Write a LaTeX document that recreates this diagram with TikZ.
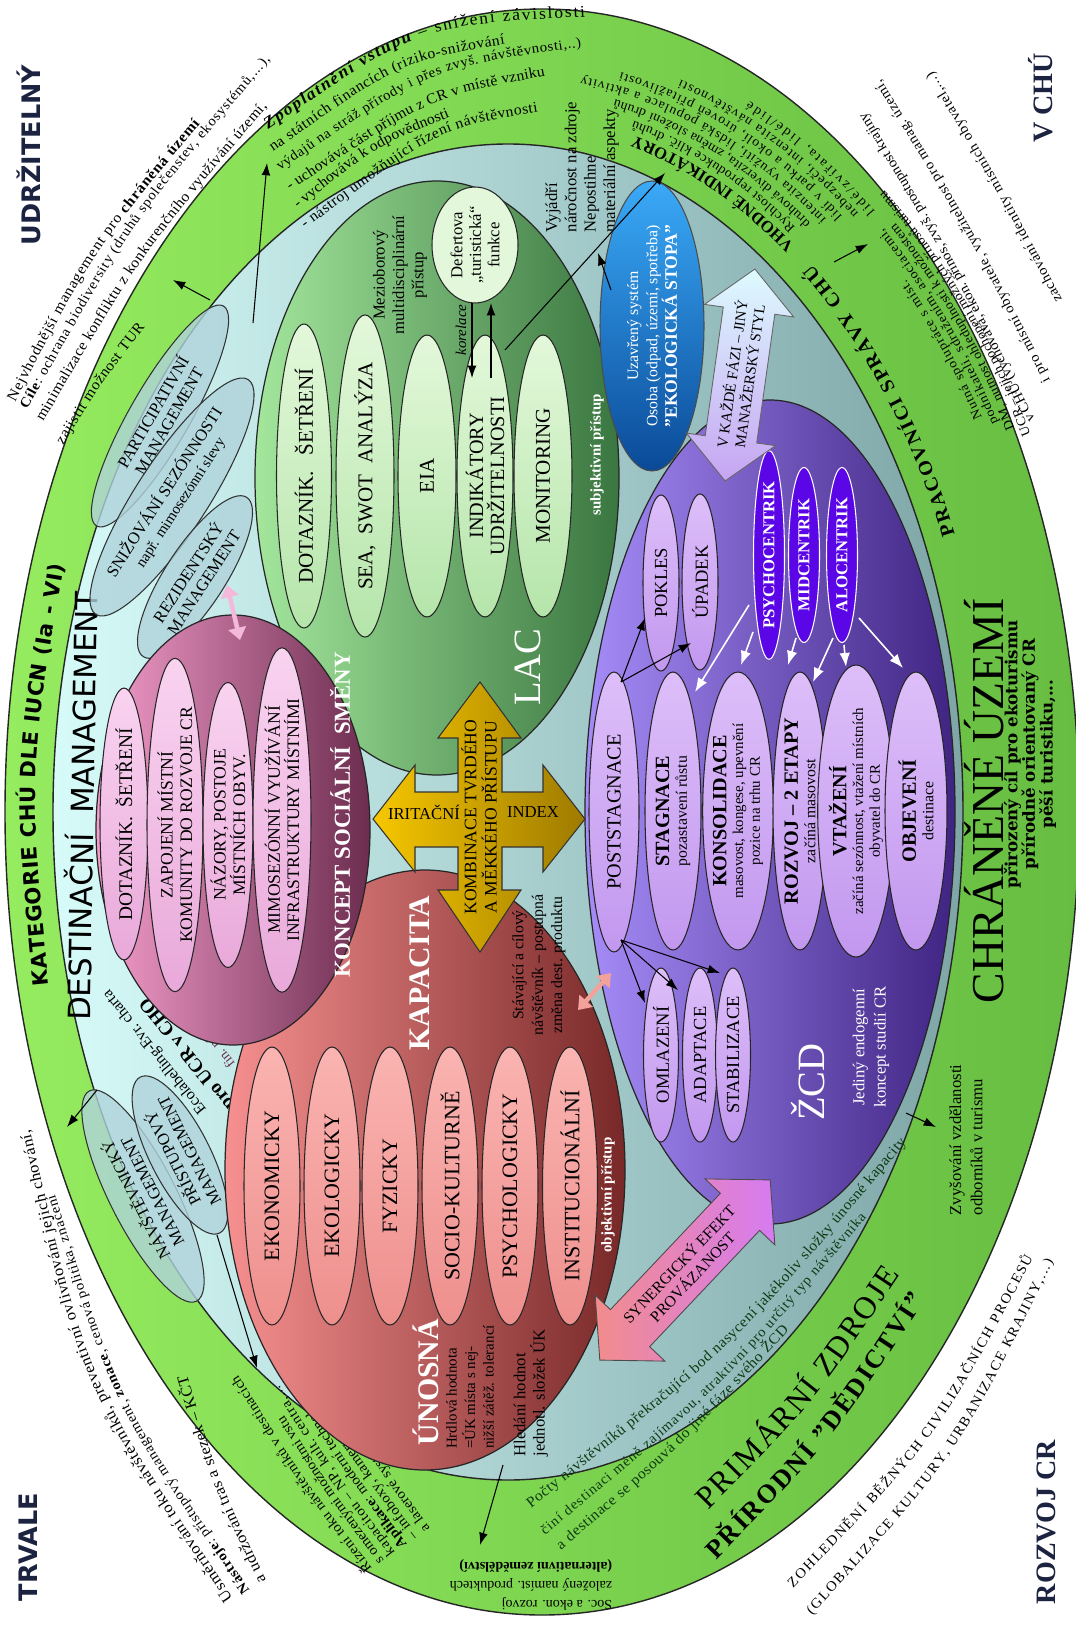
\documentclass[tikz,border=0pt]{standalone}
\usepackage{fontspec}
\setmainfont{Liberation Serif}
\newfontfamily\sansf{DejaVu Sans}
\newfontfamily\widef{DejaVu Serif}
\newfontfamily\rf[FakeStretch=1.05]{Liberation Serif}
\usetikzlibrary{shapes.geometric,arrows.meta,calc,decorations.text}
\newcommand\fs[2]{\fontsize{#1}{#2}\selectfont}
% text on a bent line: start, end, bulge factor, text
\newcommand\arctext[4]{%
  \path[decorate,decoration={text along path,text align=fit to path,text={#4}}]
    #1 .. controls ($#1!0.5!#2!#3!90:#2$) .. #2;}
% text on a curve with explicit control point
\newcommand\arctextc[4]{%
  \path[decorate,decoration={text along path,text align=fit to path,text={#4}}]
    #1 .. controls #2 .. #3;}
% text on an elliptic arc: centre, rx, ry, start angle, end angle, text
\newcommand\ringtext[6]{%
  \path[decorate,decoration={text along path,text align=fit to path,text={#6}}]
    #1 ++(#4:#2 and #3) arc[start angle=#4,end angle=#5,x radius=#2,y radius=#3];}
\definecolor{gOutL}{HTML}{95EC5F}
\definecolor{gOutR}{HTML}{66BD41}
\definecolor{cyL}{HTML}{D6FBF9}
\definecolor{cyR}{HTML}{7EA6A7}
\definecolor{cyE}{HTML}{AFD3DA}
\definecolor{pkL}{HTML}{F59DCC}
\definecolor{pkR}{HTML}{6C2D4F}
\definecolor{pkInL}{HTML}{F9D3F0}
\definecolor{pkInR}{HTML}{E9A9DA}
\definecolor{lcL}{HTML}{A3E69C}
\definecolor{lcR}{HTML}{3A7640}
\definecolor{lcInL}{HTML}{E3F8DA}
\definecolor{lcInR}{HTML}{B5E5AA}
\definecolor{rdL}{HTML}{F79090}
\definecolor{rdR}{HTML}{782828}
\definecolor{rdInL}{HTML}{FAB4B1}
\definecolor{rdInR}{HTML}{EE8F8D}
\definecolor{puL}{HTML}{A68CF8}
\definecolor{puR}{HTML}{3F2482}
\definecolor{puInL}{HTML}{DDBEF9}
\definecolor{puInR}{HTML}{C298EF}
\definecolor{psy}{HTML}{5A06E6}
\definecolor{blL}{HTML}{3AAAF8}
\definecolor{blR}{HTML}{0A4A98}
\definecolor{gdL}{HTML}{F6C700}
\definecolor{gdR}{HTML}{9E7A00}
\definecolor{navy}{HTML}{1C2340}
\definecolor{dkg}{HTML}{0E3A12}
\definecolor{ltA}{HTML}{DDFBFF}
\definecolor{ltB}{HTML}{C6A4F2}
\definecolor{synA}{HTML}{F28C8C}
\definecolor{synB}{HTML}{D67BF2}
\definecolor{salm}{HTML}{F2A29A}
\definecolor{pinkar}{HTML}{F4B8DA}
\begin{document}
\begin{tikzpicture}[x=0.02cm,y=-0.02cm,
 inel/.style={ellipse,draw=black!85,line width=0.6pt,rotate=90,inner sep=0pt,align=center},
 lbl/.style={rotate=90,inner sep=0pt,align=center},
 arr/.style={-{Latex[length=7pt,width=5pt]},line width=0.6pt},
 warr/.style={draw=white,-{Latex[length=8pt,width=6pt]},line width=0.9pt},
 cyell/.style={ellipse,draw=black!80,line width=0.6pt,inner sep=0pt,align=center,fill=cyE,fill opacity=0.8,text opacity=1},
 corner/.style={rotate=90,inner sep=0pt,text=navy}]
\useasboundingbox (0,0) rectangle (1075,1625);
\fill[white] (0,0) rectangle (1075,1625);

% ---- rings
\path[draw=black!85,line width=0.8pt,left color=gOutL,right color=gOutR] (542,812) ellipse [x radius=537,y radius=803];
\path[draw=black!85,line width=0.8pt,left color=cyL,right color=cyR] (508,812) ellipse [x radius=455,y radius=668];

% ---- corner words
\node[corner,font=\sansf\bfseries\fs{14.5}{16}] (udr) at (29,155) {UDRŽITELNÝ};
\node[corner,font=\bfseries\fs{16}{18}] (vchu) at (1041,98) {V CHÚ};
\node[corner,font=\sansf\bfseries\fs{14.5}{16}] (trv) at (28,1547) {TRVALE};
\node[corner,font=\bfseries\fs{16}{18}] (roz) at (1046,1522) {ROZVOJ CR};

% ---- left band
\arctext{(49,985)}{(64,565)}{0.133}{|\sansf\bfseries\fs{12}{13}|KATEGORIE CHÚ DLE IUCN (Ia - VI)}
\node[rotate=89,inner sep=0pt,font=\sansf\fs{17.5}{19}] (dest) at (80,806) {DESTINAČNÍ \ MANAGEMENT};

% ---- top-left outside
\arctext{(15,402)}{(200,124)}{0.11}{|\rf\fs{8.5}{10}|Nejvhodnější management pro |\rf\fs{8.5}{10}\bfseries|chráněná území}
\arctext{(27,410)}{(270,60)}{0.10}{|\rf\fs{8}{9}\bfseries|Cíle|\rf\fs{8}{9}|: ochrana biodiversity (druhů společenstev, ekosystémů,...),}
\arctext{(43,422)}{(267,107)}{0.09}{|\rf\fs{8.5}{9}|minimalizace konfliktu z konkurenčního využívání území,}
\arctext{(63,445)}{(145,327)}{0.05}{|\rf\fs{8.5}{9}|zajistit možnost TUR}

% ---- top band
\arctextc{(268,130)}{(420,25)}{(585,17)}{|\rf\fs{9.5}{11}\bfseries\itshape|Zpoplatnění vstupu|\rf\fs{9.5}{11}| – snížení závislosti}
\arctextc{(273,152)}{(400,62)}{(505,44)}{|\rf\fs{8.5}{9}|na státních financích (riziko-snižování}
\arctextc{(280,171)}{(430,68)}{(581,47)}{|\rf\fs{8}{9}|výdajů na stráž přírody i přes zvyš. návštěvnosti,..)}
\arctextc{(290,191)}{(430,97)}{(545,76)}{|\rf\fs{8.5}{9}|- uchovává část příjmu z CR v místě vzniku}
\arctextc{(298,209)}{(375,147)}{(450,117)}{|\rf\fs{8.5}{9}|- vychovává k odpovědnosti}
\arctextc{(305,229)}{(440,128)}{(538,112)}{|\rf\fs{8.5}{9}|- nástroj umožňující řízení návštěvnosti}

% ---- bottom-left outside and band
\arctext{(233,1598)}{(30,1130)}{0.19}{|\rf\fs{9}{10}|Usměrňování toku návštěvníků, preventivní ovlivňování jejich chování,}
\arctext{(250,1590)}{(55,1195)}{0.16}{|\rf\fs{8}{9}\bfseries|Nástroje|\rf\fs{8}{9}|: přístupový management, |\rf\fs{8}{9}\bfseries|zonace|\rf\fs{8}{9}|, cenová politika, značení}
\arctext{(266,1580)}{(187,1375)}{0.08}{|\rf\fs{9}{10}|a udržování tras a stezek – KČT}
\arctext{(372,1568)}{(238,1375)}{0.05}{|\rf\fs{8}{9}|Řízení toku návštěvníků v destinacích}
\arctext{(384,1560)}{(283,1414)}{0.04}{|\rf\fs{8}{9}|s omezenými možnostmi vstupu}
\arctext{(395,1552)}{(279,1385)}{0.04}{|\rf\fs{8}{9}|kapacitou – NP, kult. centra,...}
\arctext{(407,1544)}{(299,1388)}{0.04}{|\rf\fs{8}{9}\bfseries|Aplikace|\rf\fs{8}{9}|: moderní technologie}
\arctext{(418,1536)}{(291,1354)}{0.04}{|\rf\fs{8}{9}|– infoboxy, kamery, výp. tech. v IC}
\arctext{(430,1528)}{(364,1434)}{0.03}{|\rf\fs{8}{9}|a laserové systémy}

% ---- bottom-right
\arctext{(531,1508)}{(906,1143)}{-0.10}{|\rf\fs{8.5}{9}\color{dkg}|Počty návštěvníků překračující bod nasycení jakékoliv složky únosné kapacity}
\arctext{(545,1535)}{(866,1218)}{-0.086}{|\rf\fs{8}{9}\color{dkg}|činí destinaci méně zajímavou, atraktivní pro určitý typ návštěvníka}
\arctext{(561,1550)}{(789,1330)}{-0.06}{|\rf\fs{8.5}{9}\color{dkg}|a destinace se posouvá do jiné fáze svého ŽCD}
\arctext{(708,1510)}{(900,1275)}{-0.095}{|\fs{18}{20}|PRIMÁRNÍ ZDROJE}
\arctext{(716,1560)}{(925,1300)}{-0.095}{|\fs{15}{17}\bfseries|PŘÍRODNÍ "DĚDICTVÍ"}
\arctext{(793,1588)}{(1033,1258)}{-0.14}{|\rf\fs{8}{9}|ZOHLEDNĚNÍ BĚŽNÝCH CIVILIZAČNÍCH PROCESŮ}
\arctext{(812,1615)}{(1053,1262)}{-0.14}{|\rf\fs{8}{9}|(GLOBALIZACE KULTURY, URBANIZACE KRAJINY,...)}

% ---- top-right: headings and detail lines (around inner ring centre)
\ringtext{(508,812)}{487}{700}{336.6}{308.6}{|\rf\fs{11}{12}\bfseries|PRACOVNÍCI SPRÁVY CHÚ}
\ringtext{(508,812)}{487}{700}{306}{285}{|\fs{9.5}{10}\bfseries|VHODNÉ INDIKÁTORY}
\ringtext{(508,812)}{501}{714}{305}{284.5}{|\rf\fs{7.5}{9}|Rychlost reprodukce klíč. druhů}
\ringtext{(508,812)}{515}{728}{306}{282}{|\rf\fs{7.5}{9}|druhová diverzita, změna složení druhů}
\ringtext{(508,812)}{529}{742}{307}{278}{|\rf\fs{7.5}{9}|intenzita využití, lidská populace a aktivity}
\ringtext{(508,812)}{543}{756}{308}{282}{|\rf\fs{7.5}{9}|lidí v parku a okolí, úroveň přitažlivosti}
\ringtext{(508,812)}{557}{770}{309}{288}{|\rf\fs{7.5}{9}|nebezpečí, intenzita návštěvnosti}
\ringtext{(508,812)}{571}{784}{310}{295}{|\rf\fs{7.5}{9}|lidé/zvířata, lidé/lidé}
\ringtext{(508,812)}{553}{766}{329}{316}{|\rf\fs{7.5}{9}|Nutná spolupráce s míst.}
\ringtext{(508,812)}{566}{779}{330}{311.5}{|\rf\fs{7.5}{9}|podnikateli, sdružením, asociacemi,}
\ringtext{(508,812)}{579}{792}{331}{312}{|\rf\fs{7.5}{9}|DM, nutnost ohleduplnosti k možnostem}
\ringtext{(508,812)}{592}{805}{332}{309.5}{|\rf\fs{7.5}{9}|UCR – jejich pochopení možných přínosů turismu}
\arctext{(1035,420)}{(866,113)}{-0.04}{|\rf\fs{8}{9}|v CHÚ (vychovává, ekon. přínos, zvyš. prostupnost krajiny}
\arctext{(1050,380)}{(881,80)}{-0.04}{|\rf\fs{8}{9}|i pro místní obyvatele, využitelnost pro manag. území,}
\arctext{(1062,300)}{(933,72)}{-0.03}{|\rf\fs{8}{9}|zachování identity místních obyvatel,...)}

\node[lbl,font=\fs{26}{28}] (chu) at (984,801) {CHRÁNĚNÉ ÚZEMÍ};
\node[lbl,font=\widef\bfseries\fs{9.5}{10}] (prir) at (1030,754) {přirozený cíl pro ekoturismu\\přírodně orientovaný CR\\pěší turistiku,...};
\node[lbl,align=left,font=\fs{9.5}{12}] (zvys) at (966,1140) {Zvyšování vzdělanosti\\odborníků v turismu};
\node[rotate=180,inner sep=0pt,align=left,font=\fs{8}{11}] (soc) at (531,1585) {Soc. a ekon. rozvoj\\založený namíst. produktech\\{\bfseries (alternativní zemědělství)}};

% ---- small cyan ellipses
\node[cyell,rotate=60,minimum width=5.08cm,minimum height=1.2cm,font=\fs{9.5}{10.5}] (part) at (160,416) {PARTICIPATIVNÍ\\MANAGEMENT};
\node[cyell,rotate=57,minimum width=5.6cm,minimum height=1.44cm,font=\fs{9.5}{10.5}] (sniz) at (172,497) {SNIŽOVÁNÍ SEZÓNNOSTI\\{\fs{8.5}{10}např. mimosezónní slevy}};
\node[cyell,rotate=57,minimum width=3.8cm,minimum height=1.2cm,font=\fs{9.5}{10.5}] (rez) at (195,577) {REZIDENTSKÝ\\MANAGEMENT};
\node[cyell,rotate=117,minimum width=4.72cm,minimum height=1.32cm,font=\fs{9.5}{10.5}] (navs) at (143,1196) {NÁVŠTĚVNICKÝ\\MANAGEMENT};
\node[cyell,rotate=117,minimum width=3.5cm,minimum height=1.2cm,font=\fs{9.5}{10.5}] (prist) at (180,1155) {PŘÍSTUPOVÝ\\MANAGEMENT};

\node[rotate=129,inner sep=0pt,font=\fs{9}{10}] (eco) at (155,1052) {Ecolabelling-Evr. charta};
\node[rotate=129,inner sep=0pt,font=\bfseries\fs{11}{12}] (ucr) at (188,1053) {pro UCR v CHO};
\node[rotate=129,inner sep=0pt,font=\fs{8}{9},text=pkR] (fin) at (207,1036) {fin. náročnost};

% ---- big ellipses
\path[draw=black!85,line width=0.7pt,left color=rdL,right color=rdR] (425,1170) ellipse [x radius=200,y radius=300];
\path[draw=black!85,line width=0.7pt,left color=puL,right color=puR] (770,812) ellipse [x radius=185,y radius=412];
\path[draw=black!85,line width=0.7pt,left color=lcL,right color=lcR] (437,478) ellipse [x radius=182,y radius=297];
\path[draw=black!85,line width=0.7pt,left color=pkL,right color=pkR] (233,830) ellipse [x radius=137,y radius=215];

% ---- pink contents
\node[inel,minimum width=5.04cm,minimum height=0.96cm,top color=pkInL,bottom color=pkInR,font=\fs{11}{12}] (p1) at (124,824) {DOTAZNÍK.\ \ ŠETŘENÍ};
\node[inel,minimum width=5.7cm,minimum height=1.12cm,top color=pkInL,bottom color=pkInR,font=\fs{10}{11}] (p2) at (175,825) {ZAPOJENÍ MÍSTNÍ\\KOMUNITY DO ROZVOJE CR};
\node[inel,minimum width=5.7cm,minimum height=1.0cm,top color=pkInL,bottom color=pkInR,font=\fs{10}{11}] (p3) at (228,825) {NÁZORY, POSTOJE\\MÍSTNÍCH OBYV.};
\node[inel,minimum width=5.9cm,minimum height=1.16cm,top color=pkInL,bottom color=pkInR,font=\fs{10}{11}] (p4) at (282,820) {MIMOSEZÓNNÍ VYUŽÍVÁNÍ\\INFRASTRUKTURY MÍSTNÍMI};
\node[lbl,text=white,font=\bfseries\fs{13}{14}] (kss) at (340,815) {KONCEPT SOCIÁLNÍ \ SMĚNY};

% ---- LAC contents
\node[inel,minimum width=5.64cm,minimum height=1.1cm,top color=lcInL,bottom color=lcInR,font=\fs{12}{13}] (l1) at (304,476) {DOTAZNÍK.\ \ \ ŠETŘENÍ};
\node[inel,minimum width=5.64cm,minimum height=1.16cm,top color=lcInL,bottom color=lcInR,font=\fs{12}{13}] (l2) at (365,476) {SEA, \ SWOT \ ANALÝZA};
\node[inel,minimum width=5.64cm,minimum height=1.16cm,top color=lcInL,bottom color=lcInR,font=\fs{12}{13}] (l3) at (427,476) {EIA};
\node[inel,minimum width=5.64cm,minimum height=1.12cm,top color=lcInL,bottom color=lcInR,font=\fs{11.5}{12}] (l4) at (485,476) {INDIKÁTORY\\UDRŽITELNOSTI};
\node[inel,minimum width=5.64cm,minimum height=1.16cm,top color=lcInL,bottom color=lcInR,font=\fs{12}{13}] (l5) at (543,476) {MONITORING};
\node[lbl,font=\fs{9.5}{11}] (mezi) at (400,275) {Mezioborový\\multidisciplinární\\přístup};
\node[ellipse,draw=black!85,line width=0.6pt,rotate=90,minimum width=2.32cm,minimum height=1.72cm,inner sep=0pt,align=center,fill=lcInL,font=\fs{9.5}{10.5}] (def) at (475,245) {Defertova\\„turistická“\\funkce};
\node[lbl,font=\itshape\fs{8.5}{9}] (kor) at (461,330) {korelace};
\node[lbl,text=white,font=\fs{22}{24}] (lac) at (528,667) {LAC};
\node[lbl,text=white,font=\bfseries\fs{8.5}{9}] (subj) at (597,455) {subjektivní přístup};
\node[lbl,align=left,font=\fs{9.5}{11}] (vyj) at (582,167) {Vyjádří\\náročnost na zdroje\\Nepostihne\\materiální aspekty};

% ---- blue ellipse
\node[ellipse,draw=black!70,line width=0.6pt,rotate=90,minimum width=5.8cm,minimum height=2.08cm,inner sep=0pt,align=center,top color=blL,bottom color=blR,text=white,font=\fs{9}{11}] (blue) at (652,326) {Uzavřený systém\\Osoba (odpad, území, spotřeba)\\{\bfseries\fs{10}{11}"EKOLOGICKÁ STOPA"}};

% ---- red contents
\node[inel,minimum width=5.56cm,minimum height=1.12cm,top color=rdInL,bottom color=rdInR,font=\fs{12.5}{13}] (r1) at (272,1186) {EKONOMICKY};
\node[inel,minimum width=5.56cm,minimum height=1.12cm,top color=rdInL,bottom color=rdInR,font=\fs{12.5}{13}] (r2) at (332,1186) {EKOLOGICKY};
\node[inel,minimum width=5.56cm,minimum height=1.12cm,top color=rdInL,bottom color=rdInR,font=\fs{12.5}{13}] (r3) at (390,1186) {FYZICKY};
\node[inel,minimum width=5.56cm,minimum height=1.12cm,top color=rdInL,bottom color=rdInR,font=\fs{12.5}{13}] (r4) at (450,1186) {SOCIO-KULTURNĚ};
\node[inel,minimum width=5.56cm,minimum height=1.12cm,top color=rdInL,bottom color=rdInR,font=\fs{12.5}{13}] (r5) at (510,1186) {PSYCHOLOGICKY};
\node[inel,minimum width=5.56cm,minimum height=1.1cm,top color=rdInL,bottom color=rdInR,font=\fs{12.5}{13}] (r6) at (570,1186) {INSTITUCIONÁLNÍ};
\node[lbl,text=white,font=\bfseries\fs{17}{18}] (kap) at (420,973) {KAPACITA};
\node[lbl,text=white,font=\bfseries\fs{17}{18}] (unos) at (426,1382) {ÚNOSNÁ};
\node[lbl,align=left,font=\fs{8.5}{10.5}] (hrdl) at (470,1387) {Hrdlová hodnota\\=ÚK místa s nej-\\nižší zátěž. tolerancí};
\node[lbl,align=left,font=\fs{9.5}{11}] (hled) at (531,1393) {Hledání hodnot\\jednotl. složek ÚK};
\node[lbl,font=\fs{9}{11}] (stav) at (539,965) {Stávající a cílový\\návštěvník – postupná\\změna dest. produktu};
\node[lbl,text=white,font=\bfseries\fs{8.5}{9}] (obj) at (608,1195) {objektivní přístup};

% ---- purple contents
\node[inel,minimum width=5.6cm,minimum height=1.0cm,top color=puInL,bottom color=puInR,font=\fs{11.5}{12}] (u1) at (614,812) {POSTSTAGNACE};
\node[inel,minimum width=5.56cm,minimum height=1.12cm,top color=puInL,bottom color=puInR,font=\fs{9}{10}] (u2) at (673,811) {{\bfseries\fs{11.5}{13}STAGNACE}\\pozastavení růstu};
\node[inel,minimum width=5.56cm,minimum height=1.32cm,top color=puInL,bottom color=puInR,font=\fs{8.5}{9.5}] (u3) at (738,811) {{\bfseries\fs{11.5}{12.5}KONSOLIDACE}\\masovost, kongese, upevnění\\pozice na trhu CR};
\node[inel,minimum width=5.56cm,minimum height=1.08cm,top color=puInL,bottom color=puInR,font=\fs{9}{10}] (u4) at (800,811) {{\bfseries\fs{11.5}{13}ROZVOJ – 2 ETAPY}\\začíná masovost};
\node[inel,minimum width=5.56cm,minimum height=1.12cm,top color=puInL,bottom color=puInR,font=\fs{8.5}{9.5}] (u5) at (856,811) {{\bfseries\fs{11.5}{12.5}VTAŽENÍ}\\začíná sezónnost, vtažení místních\\obyvatel do CR};
\node[inel,minimum width=5.56cm,minimum height=1.24cm,top color=puInL,bottom color=puInR,font=\fs{9}{10}] (u6) at (916,811) {{\bfseries\fs{11.5}{13}OBJEVENÍ}\\destinace};
\node[inel,minimum width=3.52cm,minimum height=0.72cm,top color=puInL,bottom color=puInR,font=\fs{10.5}{11}] (pok) at (661,583) {POKLES};
\node[inel,minimum width=3.52cm,minimum height=0.72cm,top color=puInL,bottom color=puInR,font=\fs{10.5}{11}] (upa) at (700,582) {ÚPADEK};
\node[inel,minimum width=3.48cm,minimum height=0.7cm,top color=puInL,bottom color=puInR,font=\fs{10.5}{11}] (oml) at (661,1055) {OMLAZENÍ};
\node[inel,minimum width=3.48cm,minimum height=0.7cm,top color=puInL,bottom color=puInR,font=\fs{10.5}{11}] (ada) at (700,1055) {ADAPTACE};
\node[inel,minimum width=3.48cm,minimum height=0.7cm,top color=puInL,bottom color=puInR,font=\fs{10.5}{11}] (stab) at (733,1055) {STABILIZACE};
\node[inel,draw=white,minimum width=3.5cm,minimum height=0.62cm,fill=psy,text=white,font=\bfseries\fs{9.5}{10}] (psych) at (769,555) {PSYCHOCENTRIK};
\node[inel,draw=white,minimum width=3.5cm,minimum height=0.62cm,fill=psy,text=white,font=\bfseries\fs{9.5}{10}] (mid) at (804,555) {MIDCENTRIK};
\node[inel,draw=white,minimum width=3.5cm,minimum height=0.62cm,fill=psy,text=white,font=\bfseries\fs{9.5}{10}] (alo) at (842,555) {ALOCENTRIK};
\node[lbl,text=white,font=\fs{22}{24}] (zcd) at (808,1082) {ŽCD};
\node[lbl,text=white,font=\fs{9.5}{12}] (jed) at (871,1047) {Jediný endogenní\\koncept studií CR};

% ---- gold cross
\path[draw=black!80,line width=0.6pt,left color=gdL,right color=gdR]
 (480,682) -- (521,738) -- (502,738) -- (502,792) -- (543,792) -- (543,765) -- (585,819) -- (543,872) -- (543,847) -- (502,847) -- (502,890) -- (521,890) -- (480,952) -- (438,890) -- (458,890) -- (458,847) -- (415,847) -- (415,872) -- (373,819) -- (415,765) -- (415,792) -- (458,792) -- (458,738) -- (438,738) -- cycle;
\node[lbl,font=\fs{10}{11.5}] (komb) at (479,817) {KOMBINACE TVRDÉHO\\A MĚKKÉHO PŘÍSTUPU};
\node[inner sep=0pt,font=\fs{9.5}{10}] (irit) at (424,812) {IRITAČNÍ};
\node[inner sep=0pt,font=\fs{9.5}{10}] (index) at (533,812) {INDEX};

% ---- light blue double arrow
\begin{scope}[shift={(740,375)},rotate=82]
\path[draw=black!60,line width=0.5pt,top color=ltA,bottom color=ltB]
 (-107,0) -- (-65,45) -- (-65,26) -- (65,26) -- (65,45) -- (107,0) -- (65,-45) -- (65,-26) -- (-65,-26) -- (-65,-45) -- cycle;
\end{scope}
\node[rotate=82,inner sep=0pt,align=center,font=\fs{8.5}{10}] (kazde) at (740,375) {V KAŽDÉ FÁZI – JINÝ\\MANAŽERSKÝ STYL};

% ---- synergy arrow
\begin{scope}[shift={(685,1270)},rotate=46.6]
\path[draw=black!70,line width=0.5pt,left color=synA,right color=synB]
 (-124,0) -- (-80,48) -- (-80,27) -- (80,27) -- (80,48) -- (124,0) -- (80,-48) -- (80,-27) -- (-80,-27) -- (-80,-48) -- cycle;
\end{scope}
\node[rotate=46.6,align=center,inner sep=0pt,font=\fs{9}{10.5}] (syn) at (685,1270) {SYNERGICKÝ EFEKT\\PROVÁZANOST};

% ---- connectors
\coordinate (rz1) at (227,585); \coordinate (rz2) at (240,640);
\draw[line width=2.6pt,draw=pinkar,{Triangle[width=10pt,length=7pt]}-{Triangle[width=10pt,length=7pt]}] (rz1) -- (rz2);
\coordinate (sa1) at (578,1010); \coordinate (sa2) at (611,973);
\draw[line width=2.6pt,draw=salm,{Triangle[width=10pt,length=7pt]}-{Triangle[width=10pt,length=7pt]}] (sa1) -- (sa2);

\coordinate (zp1) at (253,323); \coordinate (zp2) at (267,163);
\draw[arr] (zp1) -- (zp2);
\coordinate (pa1) at (210,300); \coordinate (pa2) at (173,280);
\draw[arr] (pa1) -- (pa2);
\coordinate (nv1) at (97,1090); \coordinate (nv2) at (67,1127);
\draw[arr] (nv1) -- (nv2);
\coordinate (ps1) at (217,1235); \coordinate (ps2) at (257,1368);
\draw[arr] (ps1) -- (ps2);
\coordinate (in1) at (505,350); \coordinate (in2) at (665,173);
\draw[arr] (in1) -- (in2);
\coordinate (bl1) at (611,290); \coordinate (bl2) at (598,253);
\draw[arr] (bl1) -- (bl2);
\coordinate (ko1) at (472,303); \coordinate (ko2) at (472,378);
\draw[arr] (ko1) -- (ko2);
\coordinate (ko3) at (491,378); \coordinate (ko4) at (491,303);
\draw[arr] (ko3) -- (ko4);
\coordinate (hl1) at (503,1465); \coordinate (hl2) at (480,1545);
\draw[arr] (hl1) -- (hl2);
\coordinate (zv1) at (906,1113); \coordinate (zv2) at (936,1127);
\draw[arr] (zv1) -- (zv2);
\coordinate (pr1) at (834,262); \coordinate (pr2) at (868,244);
\draw[arr] (pr1) -- (pr2);

\coordinate (pst) at (621,682); \coordinate (psb) at (621,940);
\coordinate (pokE) at (645,618); \coordinate (upaE) at (691,643);
\coordinate (omlE) at (645,1003); \coordinate (adaE) at (678,990); \coordinate (stabE) at (720,973);
\draw[arr] (pst) -- (pokE);
\draw[arr] (pst) -- (upaE);
\draw[arr] (psb) -- (omlE);
\draw[arr] (psb) -- (adaE);
\draw[arr] (psb) -- (stabE);

\coordinate (w1a) at (749,605); \coordinate (w1b) at (695,692);
\coordinate (w2a) at (753,632); \coordinate (w2b) at (741,665);
\coordinate (w3a) at (796,638); \coordinate (w3b) at (788,665);
\coordinate (w4a) at (833,638); \coordinate (w4b) at (813,682);
\coordinate (w5a) at (844,645); \coordinate (w5b) at (846,667);
\coordinate (w6a) at (859,618); \coordinate (w6b) at (903,668);
\draw[warr] (w1a) -- (w1b);
\draw[warr] (w2a) -- (w2b);
\draw[warr] (w3a) -- (w3b);
\draw[warr] (w4a) -- (w4b);
\draw[warr] (w5a) -- (w5b);
\draw[warr] (w6a) -- (w6b);
\end{tikzpicture}
\end{document}
